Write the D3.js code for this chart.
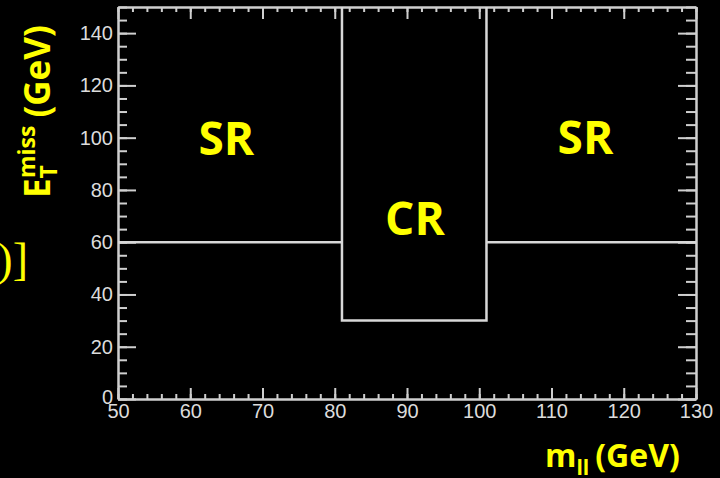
<!DOCTYPE html>
<meta charset="utf-8">
<head>
  <title>SR / CR definition</title>
</head>
<style>
  html, body { margin: 0; padding: 0; background: #000; }
  .tick text { font-family: "Liberation Sans", Arial, sans-serif; font-size: 20px; fill: #dcdcdc; }
  .axis path, .axis line { stroke: #cfcfcf; stroke-width: 2; }
  .title { font-family: "Open Sans", "Noto Sans", sans-serif; font-weight: bold; fill: #ffff00; }
</style>

<script src="https://d3js.org/d3.v7.min.js"></script>

<div id="my_dataviz"></div>

<script>
  // data
  var xDomain = [50, 130];
  var yDomain = [0, 150];
  var xMajor = [50, 60, 70, 80, 90, 100, 110, 120, 130];
  var xMinor = d3.range(50, 131, 2);
  var yMajor = [0, 20, 40, 60, 80, 100, 120, 140];
  var yMinor = d3.range(0, 151, 5);

  // region boundaries (mll, MET)
  var leftCut = [[50, 60], [81, 60]];
  var crBox = [[81, 150], [81, 30], [101, 30], [101, 150]];
  var rightCut = [[101, 60], [130, 60]];

  var regionNames = ["SR", "CR", "SR"];
  var regionX = [65, 91.1, 114.7];
  var regionY = [93.5, 62.7, 93.8];

  // set the dimensions and margins of the graph
  var margin = { top: 7, right: 24, bottom: 79, left: 118 },
    width = 720 - margin.left - margin.right,
    height = 478 - margin.top - margin.bottom;

  var svg = d3.select("#my_dataviz")
    .append("svg")
    .attr("width", 720)
    .attr("height", 478)
    .style("display", "block")
    .style("background", "#000");

  var g = svg.append("g")
    .attr("transform", "translate(" + margin.left + "," + margin.top + ")");

  var x = d3.scaleLinear().domain(xDomain).range([0, width]);
  var y = d3.scaleLinear().domain(yDomain).range([height, 0]);

  // minor ticks
  g.append("g").attr("class", "axis")
    .attr("transform", "translate(0," + height + ")")
    .call(d3.axisBottom(x).tickValues(xMinor).tickSize(-5).tickSizeOuter(0).tickFormat(""));
  g.append("g").attr("class", "axis")
    .call(d3.axisTop(x).tickValues(xMinor).tickSize(-5).tickSizeOuter(0).tickFormat(""));
  g.append("g").attr("class", "axis")
    .call(d3.axisLeft(y).tickValues(yMinor).tickSize(-9).tickSizeOuter(0).tickFormat(""));
  g.append("g").attr("class", "axis")
    .attr("transform", "translate(" + width + ",0)")
    .call(d3.axisRight(y).tickValues(yMinor).tickSize(-10).tickSizeOuter(0).tickFormat(""));

  // major ticks + labels
  g.append("g").attr("class", "axis")
    .attr("transform", "translate(0," + height + ")")
    .call(d3.axisBottom(x).tickValues(xMajor).tickSize(-11).tickSizeOuter(0).tickPadding(5));
  g.append("g").attr("class", "axis")
    .call(d3.axisTop(x).tickValues(xMajor).tickSize(-12).tickSizeOuter(0).tickFormat(""));
  g.append("g").attr("class", "axis")
    .call(d3.axisLeft(y).tickValues(yMajor).tickSize(-18).tickSizeOuter(0).tickPadding(5));
  g.append("g").attr("class", "axis")
    .attr("transform", "translate(" + width + ",0)")
    .call(d3.axisRight(y).tickValues(yMajor).tickSize(-18).tickSizeOuter(0).tickFormat(""));

  // the y "0" label sits slightly above the corner
  g.selectAll(".tick text").filter(function(d) { return d === 0; })
    .attr("dy", "0.2em");

  // region boundaries
  var line = d3.line()
    .x(function(d) { return x(d[0]); })
    .y(function(d) { return y(d[1]); });

  [leftCut, crBox, rightCut].forEach(function(pts) {
    g.append("path")
      .attr("d", line(pts))
      .attr("fill", "none")
      .attr("stroke", "#d8d8d8")
      .attr("stroke-width", 2.5);
  });

  // region labels
  g.selectAll(".region")
    .data(regionNames)
    .enter().append("text")
    .attr("class", "title")
    .attr("x", function(d, i) { return x(regionX[i]); })
    .attr("y", function(d, i) { return y(regionY[i]); })
    .attr("text-anchor", "middle")
    .style("font-size", "46px")
    .text(function(d) { return d; });

  // x axis title
  var xt = svg.append("text")
    .attr("class", "title")
    .attr("x", 545)
    .attr("y", 467)
    .style("font-size", "32px");
  xt.append("tspan").text("m");
  xt.append("tspan").attr("dy", 8).style("font-size", "21px").text("ll");
  xt.append("tspan").attr("dy", -8).attr("dx", 6).text("(GeV)");

  // y axis title
  var yt = svg.append("text")
    .attr("class", "title")
    .attr("transform", "translate(50,198) rotate(-90)")
    .style("font-size", "35px");
  yt.append("tspan").text("E");
  yt.append("tspan").attr("dy", 7).style("font-size", "23px").text("T");
  yt.append("tspan").attr("dy", -22).attr("dx", -13).style("font-size", "23px").text("miss");
  yt.append("tspan").attr("dy", 15).attr("dx", 8).text("(GeV)");

  // leftover fragment from the slide
  svg.append("text")
    .attr("x", 28)
    .attr("y", 275)
    .attr("text-anchor", "end")
    .style("font-family", "'Liberation Serif', serif")
    .style("font-size", "46px")
    .style("fill", "#ffff00")
    .text("0)]");
</script>
